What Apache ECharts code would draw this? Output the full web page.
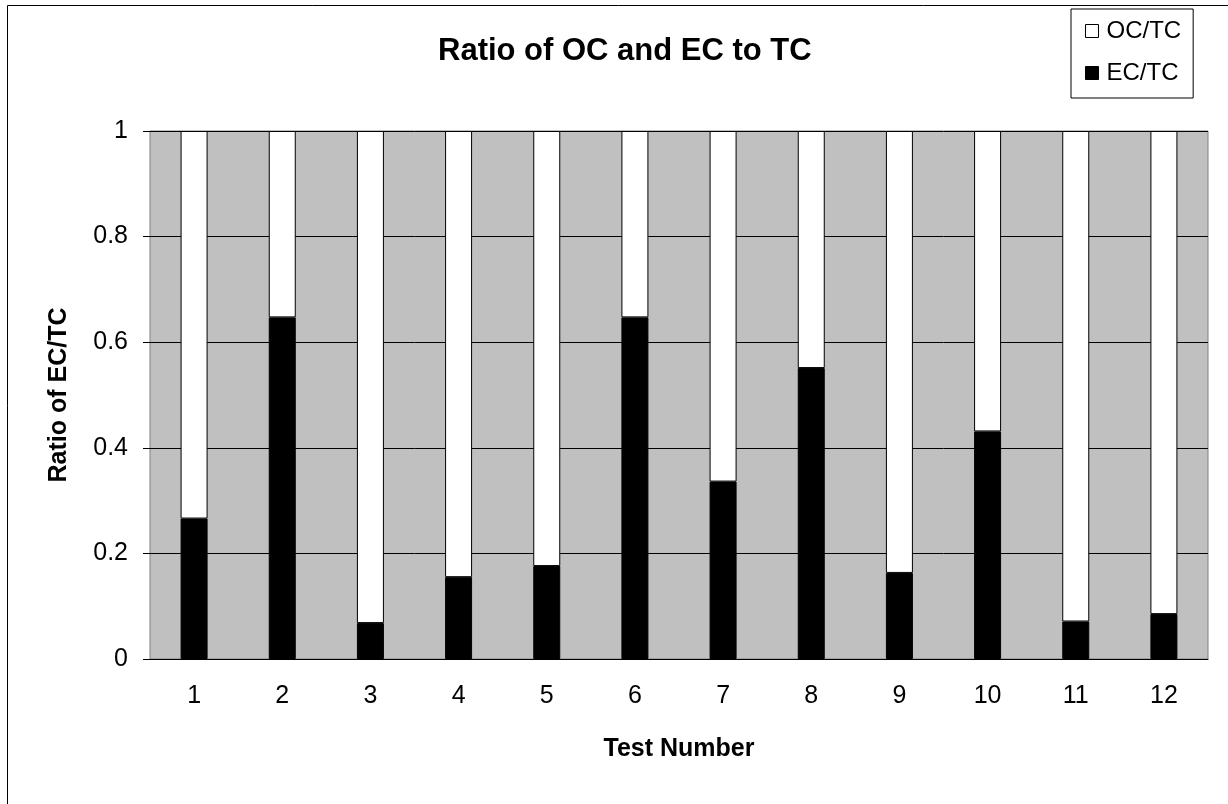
<!DOCTYPE html>
<html>
<head>
<meta charset="utf-8">
<script src="https://cdn.jsdelivr.net/npm/echarts@6/dist/echarts.min.js"></script>
<style>
  html, body { margin: 0; padding: 0; background: #fff; }
  #main { width: 1228px; height: 804px; }
</style>
</head>
<body>
<div id="main"></div>
<script>
var chartDom = document.getElementById('main');
var myChart = echarts.init(chartDom);
var option;

// Test numbers on the x axis
const tests = ['1', '2', '3', '4', '5', '6', '7', '8', '9', '10', '11', '12'];
const ecRatio = [0.266, 0.647, 0.068, 0.155, 0.176, 0.647, 0.336, 0.551, 0.163, 0.431, 0.071, 0.085];
// OC/TC ratio, the white part stacked on top (bars all reach 1)
const ocRatio = [0.734, 0.353, 0.932, 0.845, 0.824, 0.353, 0.664, 0.449, 0.837, 0.569, 0.929, 0.915];

const font = 'Liberation Sans, Arial, sans-serif';

option = {
  animation: false,
  backgroundColor: '#fff',
  textStyle: { fontFamily: font },
  title: {
    text: 'Ratio of OC and EC to TC',
    left: 438,
    top: 36,
    padding: 0,
    textStyle: { fontFamily: font, fontSize: 31, fontWeight: 'bold', color: '#000' }
  },
  // outer chart frame
  graphic: [{
    type: 'rect',
    shape: { x: 7.5, y: 5.5, width: 1260, height: 840 },
    style: { fill: 'none', stroke: '#000', lineWidth: 1 },
    silent: true
  }],
  legend: {
    orient: 'vertical',
    left: 1071,
    top: 9,
    padding: [10, 12, 13, 14],
    itemGap: 18,
    itemWidth: 13,
    itemHeight: 13,
    itemStyle: { borderColor: '#000', borderWidth: 1 },
    backgroundColor: '#fff',
    borderColor: '#000',
    borderWidth: 1,
    textStyle: { fontFamily: font, fontSize: 24, color: '#000', padding: [0, 0, 0, 3] },
    data: [{ name: 'OC/TC', icon: 'rect' }, { name: 'EC/TC', icon: 'rect' }]
  },
  grid: {
    left: 150,
    right: 20,
    top: 131,
    bottom: 145,
    show: true,
    backgroundColor: '#c0c0c0',
    borderColor: '#808080',
    borderWidth: 1
  },
  xAxis: {
    type: 'category',
    data: tests,
    name: 'Test Number',
    nameLocation: 'middle',
    nameGap: 78,
    nameTextStyle: { fontFamily: font, fontSize: 25, fontWeight: 'bold', color: '#000' },
    axisLine: { lineStyle: { color: '#000', width: 1 } },
    axisTick: { length: 7, lineStyle: { color: '#000' } },
    axisLabel: { margin: 25, fontFamily: font, fontSize: 25, color: '#000' },
    splitLine: { show: false }
  },
  yAxis: {
    type: 'value',
    min: 0,
    max: 1,
    interval: 0.2,
    name: 'Ratio of EC/TC',
    nameLocation: 'middle',
    nameGap: 78,
    nameTextStyle: { fontFamily: font, fontSize: 25, fontWeight: 'bold', color: '#000' },
    axisLine: { show: false },
    axisTick: { show: true, length: 7, lineStyle: { color: '#000' } },
    axisLabel: { margin: 22, fontFamily: font, fontSize: 25, color: '#000' },
    splitLine: { show: true, lineStyle: { color: '#000', width: 1 } }
  },
  series: [
    {
      name: 'EC/TC',
      type: 'bar',
      stack: 'total',
      barWidth: 27,
      data: ecRatio,
      itemStyle: { color: '#000', borderColor: '#000', borderWidth: 1 }
    },
    {
      name: 'OC/TC',
      type: 'bar',
      stack: 'total',
      barWidth: 27,
      data: ocRatio,
      itemStyle: { color: '#fff', borderColor: '#000', borderWidth: 1 }
    }
  ]
};

option && myChart.setOption(option);
</script>
</body>
</html>
